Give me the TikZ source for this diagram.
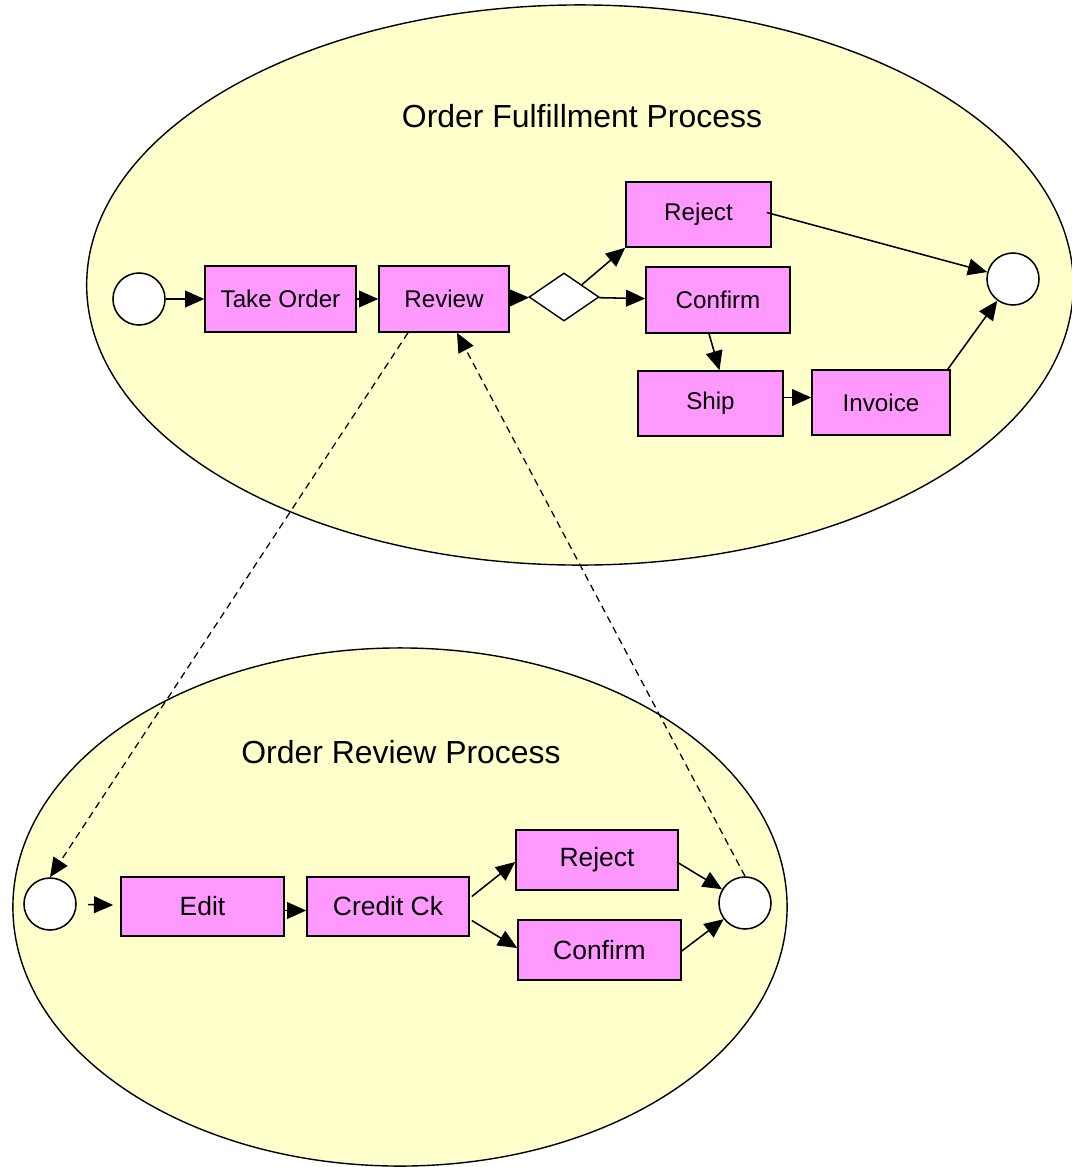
\documentclass[tikz,border=0pt]{standalone}
\usepackage{fontspec}
\setmainfont{Liberation Sans}
\usepackage{tikz}
\usetikzlibrary{calc,arrows.meta,shapes.geometric,positioning}
\definecolor{poolyellow}{HTML}{FFFFCC}
\definecolor{taskpink}{HTML}{FF99FF}
\tikzset{pool/.style={draw=black,fill=poolyellow,line width=1pt},
flow/.style={line width=1.1pt,-{Triangle[length=0.48cm,width=0.42cm]}},
link/.style={flow,dash pattern=on 5pt off 3.5pt,line width=0.9pt}}

\begin{document}
\begin{tikzpicture}[x=0.025cm, y=-0.025cm]

\tikzset{task/.style={draw=black,fill=taskpink,line width=1.1pt,inner sep=0pt,font=\fontsize{17.2}{20}\selectfont},
subtask/.style={task,font=\fontsize{18.8}{22}\selectfont},
event/.style={draw=black,fill=white,line width=1.1pt,shape=circle,minimum size=1.3cm,inner sep=0pt},
gate/.style={draw=black,fill=white,line width=1pt,shape=diamond,minimum width=1.75cm,minimum height=1.2cm,inner sep=0pt}}

\useasboundingbox (0,0) rectangle (1072,1167);

% Pools
\draw[pool] (580,285) ellipse [x radius=12.33cm, y radius=7cm];
\draw[pool] (400,907) ellipse [x radius=9.675cm, y radius=6.475cm];
\node[font=\fontsize{22.7}{26}\selectfont] (title1) at (582,116) {Order Fulfillment Process};
\node[font=\fontsize{22.7}{26}\selectfont] (title2) at (401,752) {Order Review Process};

% Fulfillment nodes
\node[event] (start1) at (139,299) {};
\node[task,minimum width=3.775cm,minimum height=1.65cm] (take) at (280.5,299) {Take Order};
\node[task,minimum width=3.25cm,minimum height=1.65cm] (rev) at (444,299) {Review};
\node[gate] (gw) at (564,297) {};
\node[task,minimum width=3.625cm,minimum height=1.625cm] (rej1) at (698.5,214.5) {Reject};
\node[task,minimum width=3.6cm,minimum height=1.65cm] (conf1) at (718,300) {Confirm};
\node[task,minimum width=3.625cm,minimum height=1.625cm] (ship) at (710.5,403.5) {Ship};
\node[task,minimum width=3.45cm,minimum height=1.625cm] (inv) at (881,402.5) {Invoice};
\node[event] (end1) at (1013,279) {};

% Review nodes
\node[event] (start2) at (50,904) {};
\node[subtask,minimum width=4.075cm,minimum height=1.475cm] (edit) at (202.5,906.5) {Edit};
\node[subtask,minimum width=4.05cm,minimum height=1.475cm] (credit) at (388,906.5) {Credit Ck};
\node[subtask,minimum width=4.05cm,minimum height=1.5cm] (rej2) at (597,860) {Reject};
\node[subtask,minimum width=4.075cm,minimum height=1.5cm] (conf2) at (599.5,950) {Confirm};
\node[event] (end2) at (745,903) {};

% Fulfillment flows
\draw[flow] (start1) -- (take);
\draw[flow] (take) -- (rev);
\draw[flow] (rev) -- (gw);
\draw[flow] (gw.north east) -- (rej1.south west);
\draw[flow] (gw) -- (conf1);
\draw[flow] ($(conf1.south)+(-9,0)$) -- ($(ship.north)+(9,0)$);
\draw[flow] ($(ship.east)+(0,-6)$) -- ($(inv.west)+(0,-5)$);
\draw[flow] ($(rej1.east)+(-5,-2)$) -- (end1);
\draw[flow] ($(inv.north east)+(-3,0)$) -- (end1);

% Review flows
\draw[flow,shorten <=8pt,shorten >=5pt] (start2) -- (edit);
\draw[flow] ($(edit.east)+(0,4)$) -- ($(credit.west)+(0,4)$);
\draw[flow] ($(credit.east)+(2,-10)$) -- ($(rej2.west)+(0,2)$);
\draw[flow] ($(credit.east)+(2,14)$) -- ($(conf2.west)+(0,-2)$);
\draw[flow] ($(rej2.east)+(-2,2)$) -- (end2);
\draw[flow] ($(conf2.east)+(0,1)$) -- (end2);

% Drill-down links
\draw[link] ($(rev.south)+(-36,0)$) -- (start2.north);
\draw[link] (end2.north) -- ($(rev.south)+(13,0)$);

\end{tikzpicture}
\end{document}
